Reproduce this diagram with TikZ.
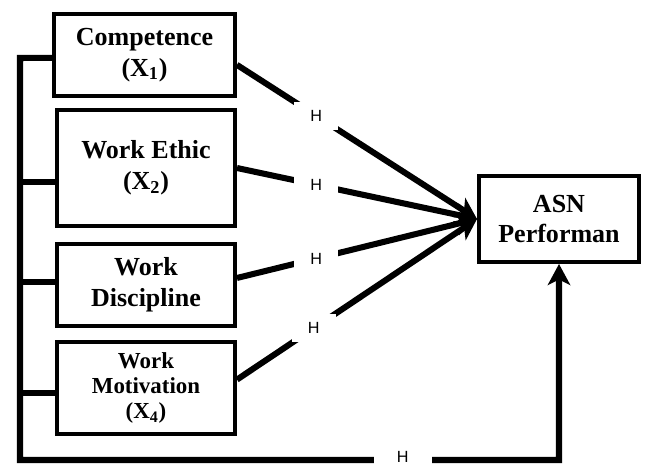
\documentclass[tikz,border=0pt]{standalone}
\usepackage{fontspec}
\setmainfont{Liberation Serif}
\setsansfont{Liberation Sans}
\usetikzlibrary{
    arrows.meta,
    positioning
}

\begin{document}
\begin{tikzpicture}[
        x=0.025cm, y=-0.025cm,
        >={Stealth[length=15pt,width=16pt,inset=4pt]},
        box/.style={
            rectangle,
            draw,
            line width=2.8pt,
            align=center,
            minimum width=4.45cm,
            font=\fontsize{18.5}{22}\selectfont\bfseries
        },
        link/.style={
            line width=4.3pt
        },
        hlab/.style={
            fill=white,
            font=\sffamily\fontsize{11.5}{13}\selectfont,
            minimum width=1.1cm,
            minimum height=0.7cm,
            inner sep=0pt
        }
    ]
        \useasboundingbox (0,0) rectangle (648,466);

        \node[box, minimum width=4.52cm, minimum height=2.05cm] (X1) at (144.5,55) {Competence\\(X\textsubscript{1})};
        \node[box, minimum height=2.9cm] (X2) at (146,168) {Work Ethic\\(X\textsubscript{2})};
        \node[box, minimum height=2.05cm] (X3) at (146,285) {Work\\Discipline};
        \node[box, minimum height=2.3cm, font=\fontsize{16.3}{18}\selectfont\bfseries] (X4) at (146,388) {Work\\Motivation\\(X\textsubscript{4})};
        \node[box, minimum width=4.0cm, minimum height=2.15cm, font=\fontsize{18.5}{22}\selectfont\bfseries] (Y) at (559,219) {ASN\\Performan};

        \coordinate (top) at (20,58);
        \coordinate (bot) at (20,460);

        % direct paths
        \draw[link, ->] ([yshift=-7pt]X1.east) -- node[hlab, pos=0.33] (H1) {H} (Y.west);
        \draw[link, ->] (X2.east) -- node[hlab, pos=0.33] (H2) {H} (Y.west);
        \draw[link, ->] ([yshift=5pt]X3.east) -- node[hlab, pos=0.33] (H3) {H} (Y.west);
        \draw[link, ->] ([yshift=6pt]X4.east) -- node[hlab, pos=0.32] (H4) {H} (Y.west);

        % simultaneous path
        \draw[link, ->] ([yshift=-2pt]X1.west) -- (top) -- (bot)
            -| node[hlab, pos=0.355, minimum width=1.45cm, minimum height=0.4cm, yshift=2pt] (H5) {H} (Y.south);
        \foreach \n/\s in {X2/-10pt,X3/2pt,X4/-3.5pt}
            \draw[link] ([yshift=\s]\n.west) -- ++(-36,0);
    \end{tikzpicture}
\end{document}
